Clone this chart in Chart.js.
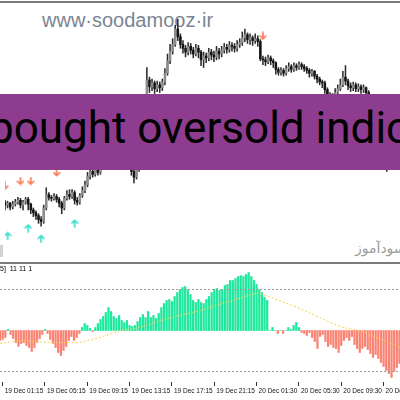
<!DOCTYPE html>
<html>
<head>
<meta charset="utf-8">
<title>Overbought oversold indicator</title>
<script src="https://cdn.jsdelivr.net/npm/chart.js@4.4.1/dist/chart.umd.min.js"></script>
<style>
  html, body { margin: 0; padding: 0; background: #fff; }
  #stage { position: relative; width: 400px; height: 400px; overflow: hidden; background: #fff; }
  #stage canvas { position: absolute; left: 0; }
  #priceChart { top: 0; }
  #oscChart { top: 264px; }
  .rule { position: absolute; left: 0; width: 400px; background: #7b7b7b; }
  #site { position: absolute; left: 42px; top: 10px; font: 20px/20px 'Liberation Sans', Arial, sans-serif; color: #7b8494; white-space: nowrap; }
  #siteFa { position: absolute; left: 355px; top: 241px; font: 14px/14px 'DejaVu Sans', sans-serif; color: #9c9c9c; white-space: nowrap; }
  #grayBlock { position: absolute; left: 0; top: 245px; width: 3px; height: 12px; background: #d2d2d2; }
  #banner { position: absolute; left: 0; top: 94px; width: 400px; height: 76px; background: #8e3c8f; overflow: hidden; }
  #bannerText { position: absolute; left: -90px; top: 12px; font: 44px/44px Roboto, sans-serif; color: #000; white-space: nowrap; }
  #oscLabel { position: absolute; left: 0; top: 265px; font: 7px/8px 'Liberation Sans Narrow', 'Liberation Sans', sans-serif; color: #000; white-space: nowrap; }
</style>
</head>
<body>
<div id="stage">
  <div id="site">www·soodamooz·ir</div>
  <div id="siteFa">سودآموز</div>
  <div id="grayBlock"></div>
  <canvas id="priceChart" width="400" height="263"></canvas>
  <canvas id="oscChart" width="400" height="136"></canvas>
  <div class="rule" style="top:1px;height:2px"></div>
  <div class="rule" style="top:262px;height:2px"></div>
  <div id="banner"><span id="bannerText">overbought oversold indicator</span></div>
  <div id="oscLabel">5]&nbsp; 11 11 1</div>
</div>
<script>
// one entry per 15 minute candle, index 0 is the half hidden bar on the left edge
const OPENS = [
  58, 55, 57, 53, 56, 58, 60, 55, 58, 61,
  56, 50, 47, 44, 40, 38, 52, 66, 63, 62,
  64, 61, 57, 52, 62, 66, 64, 68, 60, 58,
  65, 70, 76, 85, 90, 87, 92, 89, 94, 100,
  108, 115, 122, 127, 124, 130, 126, 118, 110, 100,
  90, 84, 92, 110, 135, 158, 185, 178, 182, 176,
  180, 177, 183, 192, 205, 215, 222, 238, 230, 222,
  218, 214, 220, 216, 212, 218, 214, 206, 210, 208,
  214, 211, 209, 215, 212, 216, 219, 217, 221, 220,
  218, 222, 224, 229, 232, 227, 229, 226, 228, 225,
  207, 206, 204, 208, 205, 203, 196, 193, 195, 192,
  197, 199, 196, 200, 198, 201, 199, 197, 195, 192,
  194, 189, 186, 183, 182, 175, 170, 166, 168, 172,
  176, 180, 188, 184, 179, 177, 180, 176, 178, 175,
  177, 172, 165, 158, 152, 146, 140, 130, 118, 102,
  110, 105
];
const HIGHS = [
  60, 59, 58, 59, 61, 63, 62, 60, 63, 63,
  57, 52, 49, 46, 43, 55, 73, 68, 65, 67,
  66, 63, 59, 64, 70, 71, 71, 70, 63, 67,
  74, 80, 89, 93, 94, 95, 96, 98, 104, 112,
  119, 126, 131, 130, 134, 133, 128, 120, 112, 102,
  92, 95, 113, 138, 162, 198, 188, 186, 184, 184,
  183, 186, 197, 212, 222, 228, 242, 248, 233, 226,
  221, 224, 223, 219, 222, 221, 216, 214, 213, 218,
  217, 215, 220, 218, 220, 223, 222, 225, 224, 223,
  226, 228, 235, 238, 234, 233, 231, 233, 231, 227,
  210, 209, 211, 210, 207, 204, 198, 198, 197, 200,
  203, 201, 203, 202, 204, 203, 201, 199, 197, 196,
  195, 191, 188, 185, 184, 177, 172, 171, 176, 180,
  186, 194, 200, 186, 182, 183, 182, 181, 180, 180,
  178, 174, 167, 160, 154, 148, 142, 132, 120, 113,
  112, 108
];
const LOWS = [
  50, 52, 50, 51, 54, 56, 52, 50, 56, 50,
  46, 43, 40, 36, 33, 36, 50, 60, 59, 60,
  58, 53, 46, 50, 60, 61, 62, 56, 55, 56,
  63, 68, 74, 82, 84, 85, 86, 87, 92, 98,
  105, 112, 119, 120, 121, 122, 115, 106, 96, 86,
  78, 82, 90, 108, 132, 155, 172, 174, 171, 173,
  172, 174, 180, 190, 202, 212, 220, 226, 218, 213,
  209, 211, 212, 208, 210, 208, 200, 198, 203, 205,
  206, 204, 206, 207, 209, 213, 213, 214, 215, 214,
  215, 219, 221, 225, 223, 222, 221, 223, 220, 205,
  201, 200, 202, 201, 198, 191, 190, 190, 189, 190,
  194, 193, 194, 195, 196, 196, 194, 192, 188, 189,
  186, 182, 180, 177, 171, 166, 162, 163, 166, 170,
  174, 178, 180, 175, 173, 174, 173, 173, 171, 172,
  168, 161, 154, 148, 142, 136, 126, 112, 90, 98,
  100, 96
];
const CLOSES = [
  55, 57, 53, 56, 58, 60, 55, 58, 61, 56,
  50, 47, 44, 40, 38, 52, 66, 63, 62, 64,
  61, 57, 52, 62, 66, 64, 68, 60, 58, 65,
  70, 76, 85, 90, 87, 92, 89, 94, 100, 108,
  115, 122, 127, 124, 130, 126, 118, 110, 100, 90,
  84, 92, 110, 135, 158, 185, 178, 182, 176, 180,
  177, 183, 192, 205, 215, 222, 238, 230, 222, 218,
  214, 220, 216, 212, 218, 214, 206, 210, 208, 214,
  211, 209, 215, 212, 216, 219, 217, 221, 220, 218,
  222, 224, 229, 232, 227, 229, 226, 228, 225, 207,
  206, 204, 208, 205, 203, 196, 193, 195, 192, 197,
  199, 196, 200, 198, 201, 199, 197, 195, 192, 194,
  189, 186, 183, 182, 175, 170, 166, 168, 172, 176,
  180, 188, 184, 179, 177, 180, 176, 178, 175, 177,
  172, 165, 158, 152, 146, 140, 130, 118, 102, 110,
  105, 100
];

// oscillator histogram, same bar index as the candles
const HIST = [
  -10, -9, -7, 1, -4, -8, -12, -16, -13, -12,
  -15, -17, -21, -17, -12, -8, -4, 1, -3, -9,
  -13, -17, -22, -25, -20, -16, -10, -6, -10, -7,
  -3, 3, 7, 5, 2, -1, 3, 7, 11, 14,
  18, 23, 19, 14, 12, 15, 10, 8, 10, 5,
  4, 5, 9, 13, 16, 13, 19, 13, 15, 12,
  17, 23, 27, 30, 31, 29, 34, 38, 41, 43,
  44, 41, 36, 30, 28, 31, 28, 27, 31, 34,
  38, 41, 42, 40, 41, 45, 46, 50, 50, 52,
  54, 55, 54, 56, 58, 54, 50, 46, 41, 38,
  33, 30, 0, 3, 0, -3, 0, -3, 0, 3,
  1, 5, 8, 3, -2, -3, -5, -2, -7, -11,
  -18, -6, -4, -11, -16, -14, -17, -18, -22, -15,
  -10, -7, -10, -6, -14, -18, -22, -18, -16, -19,
  -23, -27, -24, -28, -32, -36, -40, -43, -47, -41,
  -37, -33
];

// yellow dotted signal line, corner points only
const SIGNAL_X = [0, 7.6, 18.9, 30.2, 37.8, 45.4, 52.9, 63.1, 75.6, 97.5, 113.4, 124.8, 129.7, 136.1, 151.2];
const SIGNAL_Y = [-13, -10, -12, -12, -7, 0, 3, 12, 20, 38, 22, 8, 3, 0, -17];
const LEVELS = [41, -41];

// signal arrows on the price window
const DOWN_X = [0, 6, 10, 20, 100];
const DOWN_Y = [75, 80, 80, 89, 231];
const UP_X = [1, 9, 14, 27];
const UP_Y = [23, 31, 20, 36];

const TICK_POS = [1, 17, 33, 49, 65, 81, 97, 113, 129, 145];
const TICK_LABELS = [
  '19 Dec 01:15', '19 Dec 05:15', '19 Dec 09:15', '19 Dec 13:15', '19 Dec 17:15',
  '19 Dec 21:15', '20 Dec 01:30', '20 Dec 05:30', '20 Dec 09:30', '20 Dec 13:30'
];

const X_MAX = 151.2;
const GREEN = '#1ee89c';
const SALMON = '#fa8474';

function makeArrow(color, up) {
  const c = document.createElement('canvas');
  c.width = 8;
  c.height = 9;
  const g = c.getContext('2d');
  if (up) { g.translate(0, 9); g.scale(1, -1); }
  g.strokeStyle = color;
  g.lineWidth = 1.7;
  g.lineCap = 'round';
  g.lineJoin = 'round';
  g.beginPath();
  g.moveTo(4, 1); g.lineTo(4, 7.5);
  g.moveTo(1.2, 4.8); g.lineTo(4, 7.6); g.lineTo(6.8, 4.8);
  g.stroke();
  return c;
}

// put "bought" right at the left edge, like the cropped banner
(function placeBanner() {
  const span = document.getElementById('bannerText');
  const m = document.createElement('canvas').getContext('2d');
  m.font = '44px Roboto';
  span.style.left = (-11 - m.measureText('over').width) + 'px';
})();

new Chart(document.getElementById('priceChart'), {
  type: 'bar',
  data: {
    datasets: [{
      type: 'scatter',
      data: DOWN_X.map((x, k) => ({ x: x, y: DOWN_Y[k] })),
      pointStyle: makeArrow('#f8805c', false),
      order: 0
    }, {
      type: 'scatter',
      data: UP_X.map((x, k) => ({ x: x, y: UP_Y[k] })),
      pointStyle: makeArrow('#3fe0d0', true),
      order: 0
    }, {
      label: 'body',
      data: OPENS.map((o, j) => ({ x: j, y: [o, CLOSES[j]] })),
      backgroundColor: OPENS.map((o, j) => CLOSES[j] >= o ? '#8c8c8c' : '#151515'),
      barThickness: 1.9,
      grouped: false,
      order: 1
    }, {
      label: 'wick',
      data: LOWS.map((l, j) => ({ x: j, y: [l, HIGHS[j]] })),
      backgroundColor: '#2b2b2b',
      barThickness: 0.9,
      grouped: false,
      order: 2
    }]
  },
  options: {
    responsive: false,
    animation: false,
    layout: { padding: 0 },
    plugins: { legend: { display: false }, tooltip: { enabled: false } },
    scales: {
      x: { type: 'linear', min: 0, max: X_MAX, offset: false, display: false },
      y: { min: 0, max: 263, display: false }
    }
  }
});

new Chart(document.getElementById('oscChart'), {
  type: 'bar',
  data: {
    datasets: [{
      type: 'line',
      data: SIGNAL_X.map((x, k) => ({ x: x, y: SIGNAL_Y[k] })),
      borderColor: '#f6d24c',
      borderWidth: 1,
      borderDash: [2, 2],
      pointRadius: 0,
      order: 0
    }, {
      type: 'line',
      data: [{ x: 0, y: LEVELS[0] }, { x: X_MAX, y: LEVELS[0] }],
      borderColor: '#9c9c9c',
      borderWidth: 1,
      borderDash: [2, 2],
      pointRadius: 0,
      order: 1
    }, {
      type: 'line',
      data: [{ x: 0, y: LEVELS[1] }, { x: X_MAX, y: LEVELS[1] }],
      borderColor: '#9c9c9c',
      borderWidth: 1,
      borderDash: [2, 2],
      pointRadius: 0,
      order: 1
    }, {
      data: HIST.map((v, j) => ({ x: j, y: v })),
      backgroundColor: HIST.map(v => v >= 0 ? GREEN : SALMON),
      barThickness: 1.6,
      grouped: false,
      order: 2
    }]
  },
  options: {
    responsive: false,
    animation: false,
    layout: { padding: 0 },
    plugins: { legend: { display: false }, tooltip: { enabled: false } },
    scales: {
      x: {
        type: 'linear',
        min: 0,
        max: X_MAX,
        offset: false,
        position: 'bottom',
        afterBuildTicks: s => { s.ticks = TICK_POS.map(v => ({ value: v })); },
        afterFit: s => { s.height = 18; s.paddingLeft = 0; s.paddingRight = 0; },
        grid: { drawOnChartArea: false, drawTicks: true, tickLength: 4, color: '#333', offset: false },
        border: { display: false },
        ticks: {
          autoSkip: false,
          maxRotation: 0,
          minRotation: 0,
          align: 'start',
          labelOffset: 2,
          padding: 1,
          color: '#111',
          font: { family: "'Liberation Sans Narrow', 'Liberation Sans', sans-serif", size: 6.5 },
          callback: (v, i) => TICK_LABELS[i]
        }
      },
      y: { min: -51.5, max: 66.5, display: false }
    }
  }
});
</script>
</body>
</html>
